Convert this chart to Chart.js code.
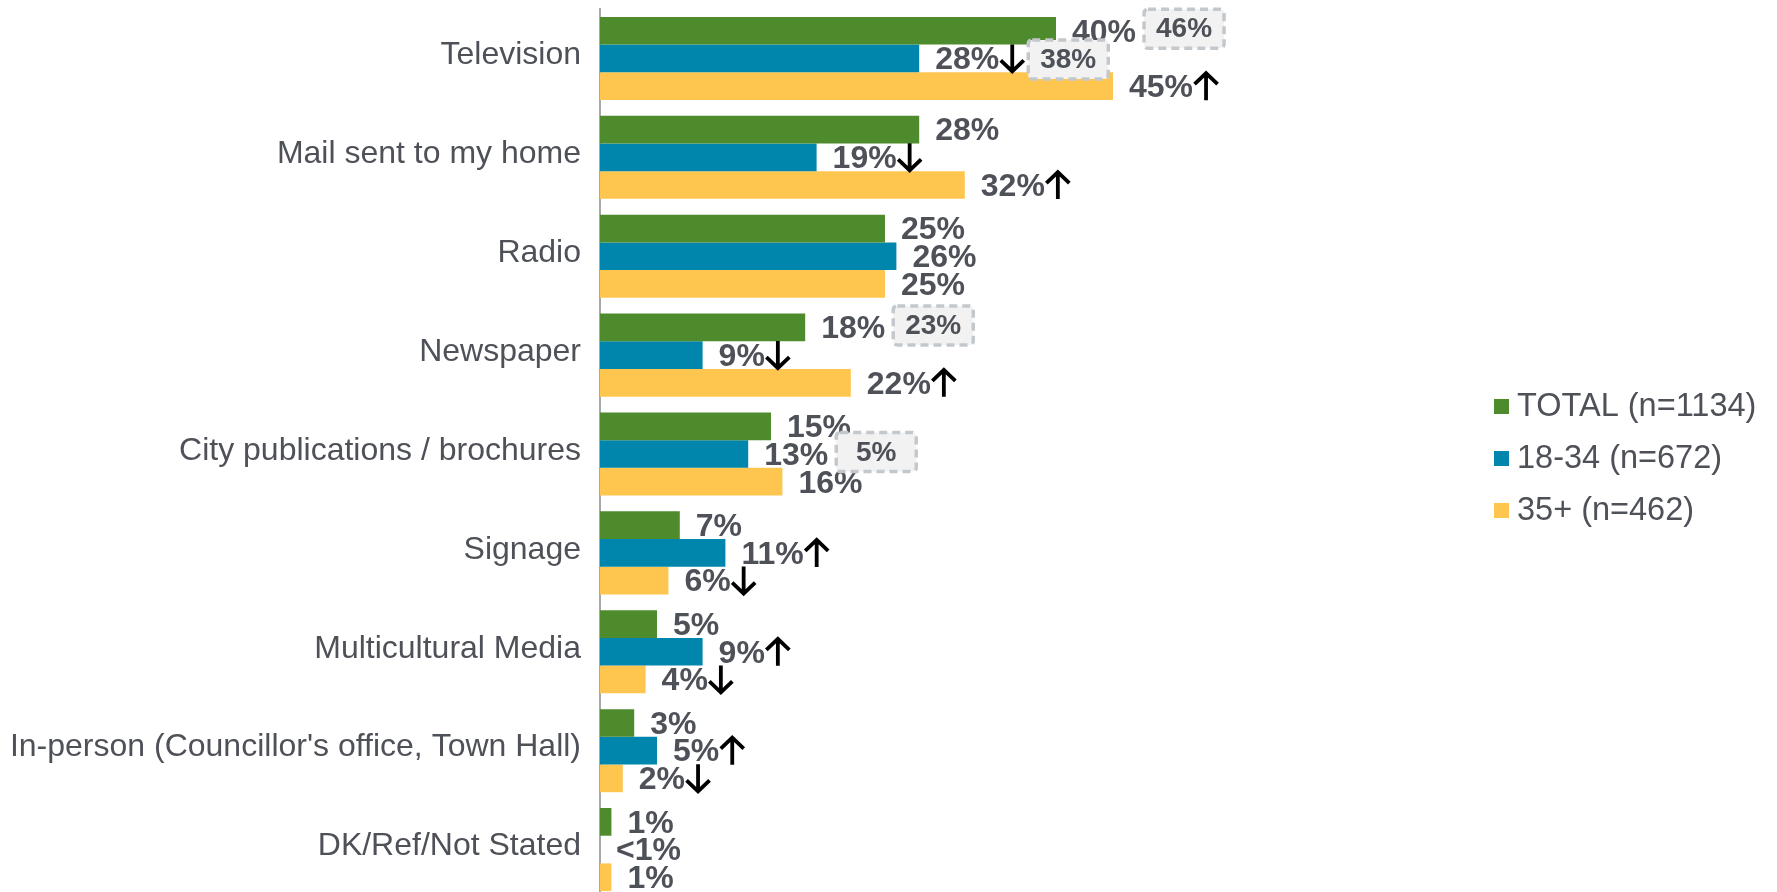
<!DOCTYPE html>
<html>
<head>
<meta charset="utf-8">
<script src="https://cdn.jsdelivr.net/npm/chart.js@4.4.1/dist/chart.umd.min.js"></script>
<style>
  html, body { margin: 0; padding: 0; background: #fff; overflow: hidden; }
  canvas { display: block; }
</style>
</head>
<body>
<canvas id="mediaChart" width="1777" height="900" style="width:1777px;height:900px"></canvas>
<script>
// categories and series
const categories = ['Television', 'Mail sent to my home', 'Radio', 'Newspaper',
    'City publications / brochures', 'Signage', 'Multicultural Media',
    "In-person (Councillor's office, Town Hall)", 'DK/Ref/Not Stated'];
const seriesNames = ['TOTAL (n=1134)', '18-34 (n=672)', '35+ (n=462)'];
const totalValues = [40, 28, 25, 18, 15, 7, 5, 3, 1];
const youngValues = [28, 19, 26, 9, 13, 11, 9, 5, 0];   // DK shown as <1%
const olderValues = [45, 32, 25, 22, 16, 6, 4, 2, 1];
// significance arrows per bar ('up' / 'down' / '')
const youngSig = ['down', 'down', '', 'down', '', 'up', 'up', 'up', ''];
const olderSig = ['up', 'up', '', 'up', '', 'down', 'down', 'down', ''];
// comparison values shown in the dashed boxes (null = none)
const totalPrev = [46, null, null, 23, null, null, null, null, null];
const youngPrev = [38, null, null, null, 5, null, null, null, null];

const colors = ['#4e8b2c', '#0086ad', '#ffc64f'];
const textColor = '#4e5158';
const fontFam = '"Liberation Sans", Arial, sans-serif';

const sigs = [null, youngSig, olderSig];
const prevs = [totalPrev, youngPrev, null];

function fmt(v) {
    return v < 1 ? '<1%' : v + '%';
}

function drawArrow(ctx, x, y, dir) {
    const cx = x + 12;
    const top = y - 14, bot = y + 14;
    ctx.save();
    ctx.strokeStyle = '#000';
    ctx.lineWidth = 3.8;
    ctx.beginPath();
    ctx.moveTo(cx, top);
    ctx.lineTo(cx, bot);
    if (dir === 'up') {
        ctx.moveTo(cx - 11.5, top + 12);
        ctx.lineTo(cx, top + 1);
        ctx.lineTo(cx + 11.5, top + 12);
    } else {
        ctx.moveTo(cx - 11.5, bot - 12);
        ctx.lineTo(cx, bot - 1);
        ctx.lineTo(cx + 11.5, bot - 12);
    }
    ctx.stroke();
    ctx.restore();
}

function drawBox(ctx, x, y, text) {
    const w = 80, h = 39;
    const top = y - h / 2 - 2;
    ctx.save();
    ctx.fillStyle = '#f2f2f2';
    ctx.beginPath();
    ctx.roundRect(x, top, w, h, 4);
    ctx.fill();
    ctx.setLineDash([8, 5]);
    ctx.lineWidth = 3.5;
    ctx.strokeStyle = '#c3c8cd';
    ctx.stroke();
    ctx.fillStyle = textColor;
    ctx.font = 'bold 28px ' + fontFam;
    ctx.textAlign = 'center';
    ctx.textBaseline = 'middle';
    ctx.fillText(text, x + w / 2, top + h / 2 + 1);
    ctx.restore();
}

// value labels, arrows, comparison boxes and legend
const labelPlugin = {
    id: 'labelPlugin',
    afterDatasetsDraw(chart) {
        const ctx = chart.ctx;
        const boxes = [];
        ctx.save();
        ctx.font = 'bold 32px ' + fontFam;
        ctx.textBaseline = 'middle';
        ctx.textAlign = 'left';
        chart.data.datasets.forEach((ds, di) => {
            const meta = chart.getDatasetMeta(di);
            meta.data.forEach((bar, i) => {
                const txt = fmt(ds.data[i]);
                const x = bar.x + 16;
                const y = bar.y + 2;
                ctx.fillStyle = textColor;
                ctx.fillText(txt, x, y);
                let end = x + ctx.measureText(txt).width;
                const sig = sigs[di] ? sigs[di][i] : '';
                if (sig) {
                    drawArrow(ctx, end + 1, bar.y, sig);
                    end += 21;
                }
                const prev = prevs[di] ? prevs[di][i] : null;
                if (prev !== null && prev !== undefined) {
                    boxes.push([end + 8, bar.y + (sig ? 3 : 0), prev + '%']);
                }
            });
        });
        boxes.forEach(b => drawBox(ctx, b[0], b[1], b[2]));
        ctx.restore();

        // legend
        ctx.save();
        ctx.font = '32.5px ' + fontFam;
        ctx.textBaseline = 'middle';
        const rows = [406, 458, 510];
        seriesNames.forEach((name, i) => {
            ctx.fillStyle = colors[i];
            ctx.fillRect(1494, rows[i] - 7, 15, 15);
            ctx.fillStyle = textColor;
            ctx.fillText(name, 1517, rows[i] + 1);
        });
        ctx.restore();
    }
};

const chart = new Chart(document.getElementById('mediaChart').getContext('2d'), {
    type: 'bar',
    data: {
        labels: categories,
        datasets: [
            { label: seriesNames[0], data: totalValues, backgroundColor: colors[0] },
            { label: seriesNames[1], data: youngValues, backgroundColor: colors[1] },
            { label: seriesNames[2], data: olderValues, backgroundColor: colors[2] }
        ]
    },
    options: {
        indexAxis: 'y',
        responsive: false,
        animation: false,
        devicePixelRatio: 1,
        categoryPercentage: 0.84,
        barPercentage: 1.0,
        layout: { padding: { top: 9, bottom: 1, left: 0, right: 37 } },
        plugins: {
            legend: { display: false },
            tooltip: { enabled: false }
        },
        scales: {
            x: {
                display: false,
                min: 0,
                max: 100
            },
            y: {
                grid: { display: false },
                border: { display: true, color: '#a8a8a8', width: 2 },
                ticks: {
                    color: textColor,
                    padding: 11,
                    labelOffset: -3,
                    font: { family: fontFam, size: 32 }
                },
                afterFit(scale) {
                    scale.width = 600;
                    scale.paddingTop = 0;
                    scale.paddingBottom = 0;
                }
            }
        }
    },
    plugins: [labelPlugin]
});
</script>
</body>
</html>
